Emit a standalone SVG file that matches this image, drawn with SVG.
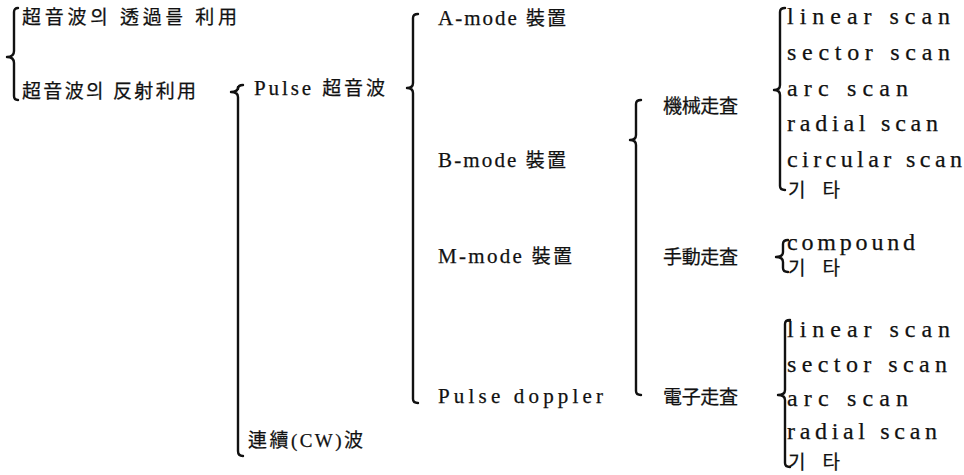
<svg xmlns="http://www.w3.org/2000/svg" width="964" height="475" viewBox="0 0 964 475">
  <style>
    text { font-family: "Liberation Serif", "Noto Sans CJK KR", serif; font-size: 21px; fill: #111; stroke: #111; stroke-width: 0.25; }
    .k { font-size: 19px; }
    .m { font-size: 24px; }
    .b { fill: none; stroke: #111; stroke-width: 2.4; stroke-linecap: round; stroke-linejoin: round; }
  </style>
  <rect width="964" height="475" fill="#fff"/>

  <!-- braces that group each level -->
  <g id="connectors">
    <path class="b" d="M18,8 Q14,8 14,12 L14,51 Q14,57 7,57 Q14,57 14,63 L14,96 Q14,100 18,100"/>
    <path class="b" d="M243,85 Q238,85 238,89 L238,87 Q238,92 231,92 Q238,92 238,97 L238,451 Q238,456 243,456"/>
    <path class="b" d="M418,14 Q413,14 413,18 L413,83 Q413,88 407,88 Q413,88 413,93 L413,399 Q413,403 418,403"/>
    <path class="b" d="M641,100 Q636,100 636,104 L636,135 Q636,140 630,140 Q636,140 636,145 L636,391 Q636,395 641,395"/>
    <path class="b" d="M785,8 Q780,8 780,12 L780,85 Q780,90 774,90 Q780,90 780,95 L780,186 Q780,190 785,190"/>
    <path class="b" d="M788,240 Q783,240 783,244 L783,252 Q783,257 776,257 Q783,257 783,262 L783,268 Q783,272 788,272"/>
    <path class="b" d="M790,320 Q785,320 785,324 L785,390 Q785,395 778,395 Q785,395 785,400 L785,463 Q785,467 790,467"/>
  </g>

  <g id="n-transmission"><text class="k" x="22" y="24" textLength="215" lengthAdjust="spacing">超音波의 透過를 利用</text></g>
  <g id="n-reflection"><text class="k" x="22" y="98" textLength="174" lengthAdjust="spacing">超音波의 反射利用</text></g>

  <g id="n-pulse"><text x="254" y="95" textLength="131" lengthAdjust="spacing">Pulse <tspan class="k">超音波</tspan></text></g>
  <g id="n-cw"><text class="k" x="248" y="447" textLength="115" lengthAdjust="spacing">連續(CW)波</text></g>

  <g id="n-amode"><text x="438" y="25" textLength="128" lengthAdjust="spacing">A-mode <tspan class="k">裝置</tspan></text></g>
  <g id="n-bmode"><text x="438" y="167" textLength="128" lengthAdjust="spacing">B-mode <tspan class="k">裝置</tspan></text></g>
  <g id="n-mmode"><text x="438" y="263" textLength="134" lengthAdjust="spacing">M-mode <tspan class="k">裝置</tspan></text></g>
  <g id="n-doppler"><text x="438" y="403" textLength="165" lengthAdjust="spacing">Pulse doppler</text></g>

  <g id="n-mechanical"><text class="k" x="663" y="113" textLength="75" lengthAdjust="spacing">機械走査</text></g>
  <g id="n-manual"><text class="k" x="663" y="264" textLength="75" lengthAdjust="spacing">手動走査</text></g>
  <g id="n-electronic"><text class="k" x="663" y="404" textLength="75" lengthAdjust="spacing">電子走査</text></g>

  <g id="n-mech-list">
    <text class="m" x="787" y="24" textLength="163" lengthAdjust="spacing">linear scan</text>
    <text class="m" x="787" y="60" textLength="163" lengthAdjust="spacing">sector scan</text>
    <text class="m" x="787" y="96" textLength="121" lengthAdjust="spacing">arc scan</text>
    <text class="m" x="787" y="131" textLength="151" lengthAdjust="spacing">radial scan</text>
    <text class="m" x="787" y="167" textLength="175" lengthAdjust="spacing">circular scan</text>
    <text class="k" x="788" y="197" textLength="52" lengthAdjust="spacing">기 타</text>
  </g>

  <g id="n-manual-list">
    <text class="m" x="787" y="250" textLength="128" lengthAdjust="spacing">compound</text>
    <text class="k" x="788" y="275" textLength="52" lengthAdjust="spacing">기 타</text>
  </g>

  <g id="n-elec-list">
    <text class="m" x="787" y="337" textLength="163" lengthAdjust="spacing">linear scan</text>
    <text class="m" x="787" y="372" textLength="160" lengthAdjust="spacing">sector scan</text>
    <text class="m" x="787" y="406" textLength="121" lengthAdjust="spacing">arc scan</text>
    <text class="m" x="787" y="439" textLength="150" lengthAdjust="spacing">radial scan</text>
    <text class="k" x="788" y="469" textLength="52" lengthAdjust="spacing">기 타</text>
  </g>
</svg>
